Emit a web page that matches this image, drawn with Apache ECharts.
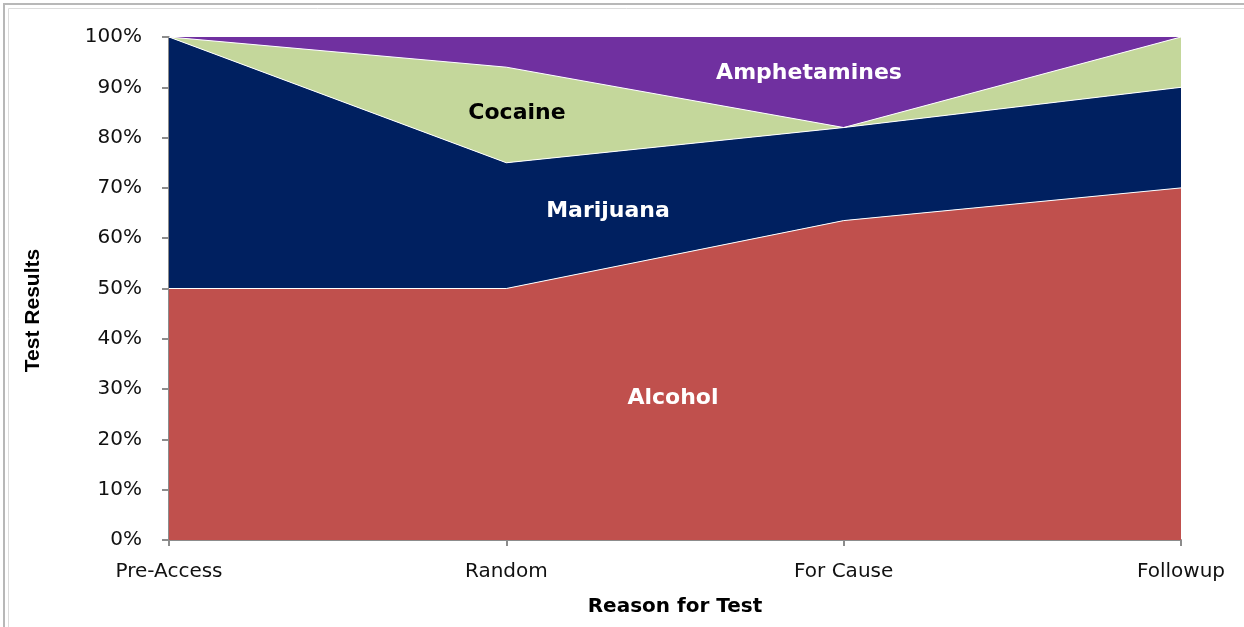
<!DOCTYPE html>
<html>
<head>
<meta charset="utf-8">
<script src="https://cdn.jsdelivr.net/npm/echarts@6/dist/echarts.min.js"></script>
<style>
html,body{margin:0;padding:0;background:#fff;}
#c{width:1244px;height:627px;}
</style>
</head>
<body>
<div id="c"></div>
<script>
const categories = ['Pre-Access', 'Random', 'For Cause', 'Followup'];
const alcohol = [50, 50, 63.5, 70];
const marijuana = [50, 25, 18.5, 20];
const cocaine = [0, 19, 0, 10];
const amphetamines = [0, 6, 18, 0];
const seriesNames = ['Alcohol', 'Marijuana', 'Cocaine', 'Amphetamines'];

const WIDE = '"DejaVu Sans", "Liberation Sans", Arial, sans-serif';
const NARROW = '"Liberation Sans", Arial, sans-serif';
const chart = echarts.init(document.getElementById('c'), null, {renderer: 'canvas'});

function areaSeries(name, data, color, lineW) {
  return {
    name: name, type: 'line', stack: 'total', data: data,
    symbol: 'none', silent: true,
    lineStyle: {color: '#ffffff', width: lineW},
    areaStyle: {color: color, opacity: 1},
    itemStyle: {color: color}
  };
}

function label(text, x, y, color) {
  return {
    type: 'text', silent: true, x: x, y: y, z: 100,
    style: {text: text, fill: color, fontSize: 22, fontWeight: 'bold', fontFamily: WIDE,
            align: 'center', verticalAlign: 'middle'}
  };
}

chart.setOption({
  animation: false,
  backgroundColor: '#ffffff',
  grid: {left: 169, right: 63, top: 37, bottom: 87},
  xAxis: {
    type: 'category', data: categories, boundaryGap: false,
    axisLine: {lineStyle: {color: '#8c8c8c', width: 2}},
    axisTick: {show: true, length: 6, alignWithLabel: true, lineStyle: {color: '#8c8c8c', width: 2}},
    axisLabel: {color: '#111', fontSize: 20, fontFamily: WIDE, margin: 22},
    name: 'Reason for Test', nameLocation: 'middle', nameGap: 57,
    nameTextStyle: {color: '#000', fontSize: 20, fontWeight: 'bold', fontFamily: WIDE}
  },
  yAxis: {
    type: 'value', min: 0, max: 100, interval: 10,
    splitLine: {show: false},
    axisLine: {show: true, lineStyle: {color: '#8c8c8c', width: 2}},
    axisTick: {show: true, length: 7, lineStyle: {color: '#8c8c8c', width: 2}},
    axisLabel: {color: '#111', fontSize: 20, fontFamily: WIDE, margin: 27, formatter: '{value}%'},
    name: 'Test Results', nameLocation: 'middle', nameGap: 125, nameRotate: 90,
    nameTextStyle: {color: '#000', fontSize: 21, fontWeight: 'bold', fontFamily: NARROW,
                    padding: [0, 44, 0, 0]}
  },
  series: [
    areaSeries(seriesNames[0], alcohol, '#C0504D', 1),
    areaSeries(seriesNames[1], marijuana, '#002060', 1),
    areaSeries(seriesNames[2], cocaine, '#C4D79B', 1),
    areaSeries(seriesNames[3], amphetamines, '#7030A0', 0)
  ],
  graphic: [
    {type: 'rect', silent: true, shape: {x: 4, y: 4, width: 1400, height: 800},
     style: {fill: 'none', stroke: '#b8b8b8', lineWidth: 2}},
    {type: 'rect', silent: true, shape: {x: 8.5, y: 8.5, width: 1400, height: 800},
     style: {fill: 'none', stroke: '#dcdcdc', lineWidth: 1}},
    label(seriesNames[0], 673, 398, '#ffffff'),
    label(seriesNames[1], 608, 211, '#ffffff'),
    label(seriesNames[2], 517, 113, '#000000'),
    label(seriesNames[3], 809, 73, '#ffffff')
  ]
});
</script>
</body>
</html>
